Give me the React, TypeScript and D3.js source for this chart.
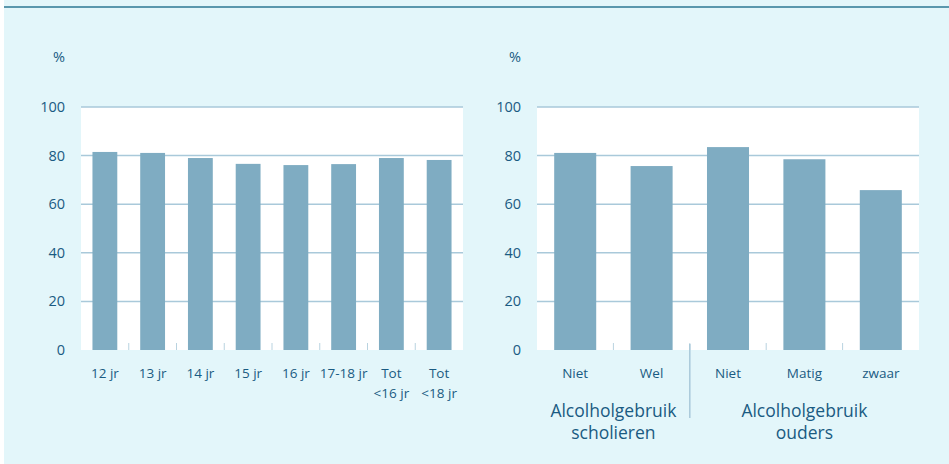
import { useEffect, useRef } from "react";
import * as d3 from "d3";

// left panel: age groups
const ageLabels = ["12 jr", "13 jr", "14 jr", "15 jr", "16 jr", "17-18 jr", "Tot\n<16 jr", "Tot\n<18 jr"];
const ageValues = [81.5, 81.1, 79.0, 76.6, 76.1, 76.5, 79.0, 78.2];

// right panel: alcohol use of pupils and parents
const useLabels = ["Niet", "Wel", "Niet", "Matig", "zwaar"];
const useValues = [81.1, 75.7, 83.5, 78.5, 65.8];
const groupLabels = ["Alcolholgebruik\nscholieren", "Alcolholgebruik\nouders"];
const groupSpans = [[0, 2], [2, 5]];

const yTicks = [0, 20, 40, 60, 80, 100];

const W = 949;
const H = 464;
const TEXT = "#1a5b82";
const BAR = "#7facc2";
const GRID = "#a9c9da";
const FONT = "'Open Sans', sans-serif";

const App = () => {
  const svgRef = useRef<SVGSVGElement>(null);

  useEffect(() => {
    if (!svgRef.current) return;
    const svg = d3.select(svgRef.current);
    svg.selectAll("*").remove();

    // background + top rule
    svg.append("rect").attr("x", 4).attr("y", 0).attr("width", W - 4).attr("height", H).attr("fill", "#e3f6fa");
    svg.append("rect").attr("x", 4).attr("y", 6).attr("width", W - 4).attr("height", 2).attr("fill", "#5a97ad");

    const y = d3.scaleLinear().domain([0, 100]).range([350, 107]);

    const drawPanel = (x0: number, x1: number, labels: string[], values: number[], pad: number) => {
      const g = svg.append("g");
      const x = d3.scaleBand<number>().domain(d3.range(labels.length)).range([x0, x1]).paddingInner(pad).paddingOuter(pad / 2);
      const step = x.step();

      g.append("rect").attr("x", x0).attr("y", y(100)).attr("width", x1 - x0).attr("height", y(0) - y(100)).attr("fill", "#fff");

      g.selectAll("line.grid")
        .data(yTicks.filter((t) => t > 0))
        .enter()
        .append("line")
        .attr("x1", x0)
        .attr("x2", x1)
        .attr("y1", (d) => y(d))
        .attr("y2", (d) => y(d))
        .attr("stroke", GRID)
        .attr("stroke-width", 1.5);

      g.selectAll("text.ytick")
        .data(yTicks)
        .enter()
        .append("text")
        .attr("x", x0 - 16)
        .attr("y", (d) => y(d))
        .attr("dy", "0.35em")
        .attr("text-anchor", "end")
        .attr("font-family", FONT)
        .attr("font-size", 14.5)
        .attr("fill", TEXT)
        .text((d) => d);

      g.append("text")
        .attr("x", x0 - 16)
        .attr("y", 57)
        .attr("dy", "0.35em")
        .attr("text-anchor", "end")
        .attr("font-family", FONT)
        .attr("font-size", 14.5)
        .attr("fill", TEXT)
        .text("%");

      g.selectAll("rect.bar")
        .data(values)
        .enter()
        .append("rect")
        .attr("x", (_, i) => x(i)!)
        .attr("y", (d) => y(d))
        .attr("width", x.bandwidth())
        .attr("height", (d) => y(0) - y(d))
        .attr("fill", BAR);

      // small ticks between bands
      g.selectAll("line.tick")
        .data(d3.range(1, labels.length))
        .enter()
        .append("line")
        .attr("x1", (i) => x0 + i * step)
        .attr("x2", (i) => x0 + i * step)
        .attr("y1", y(0) - 7)
        .attr("y2", y(0))
        .attr("stroke", "#b9d3e0")
        .attr("stroke-width", 1);

      const lbl = g.selectAll("text.xlab")
        .data(labels)
        .enter()
        .append("text")
        .attr("text-anchor", "middle")
        .attr("font-family", FONT)
        .attr("font-size", 13.5)
        .attr("fill", TEXT);
      lbl.each(function (d, i) {
        const t = d3.select(this);
        d.split("\n").forEach((line, k) => {
          t.append("tspan")
            .attr("x", x(i)! + x.bandwidth() / 2)
            .attr("y", 378 + k * 20)
            .text(line);
        });
      });
      return { x, step };
    };

    drawPanel(81, 463, ageLabels, ageValues, 0.48);
    const right = drawPanel(537, 919, useLabels, useValues, 0.45);

    // separator between the two groups
    const sepX = 537 + groupSpans[1][0] * right.step;
    svg.append("line")
      .attr("x1", sepX).attr("x2", sepX)
      .attr("y1", 344).attr("y2", 418)
      .attr("stroke", "#a9c9da").attr("stroke-width", 1.5);

    groupLabels.forEach((lab, gi) => {
      const [a, b] = groupSpans[gi];
      const cx = 537 + ((a + b) / 2) * right.step;
      const t = svg.append("text")
        .attr("text-anchor", "middle")
        .attr("font-family", FONT)
        .attr("font-size", 17.5)
        .attr("fill", TEXT);
      lab.split("\n").forEach((line, k) => {
        t.append("tspan").attr("x", cx).attr("y", 417 + k * 22).text(line);
      });
    });
  }, []);

  return (
    <svg
      ref={svgRef}
      width={W}
      height={H}
      style={{ position: "absolute", left: 0, top: 0, display: "block" }}
    />
  );
};

export default App;
